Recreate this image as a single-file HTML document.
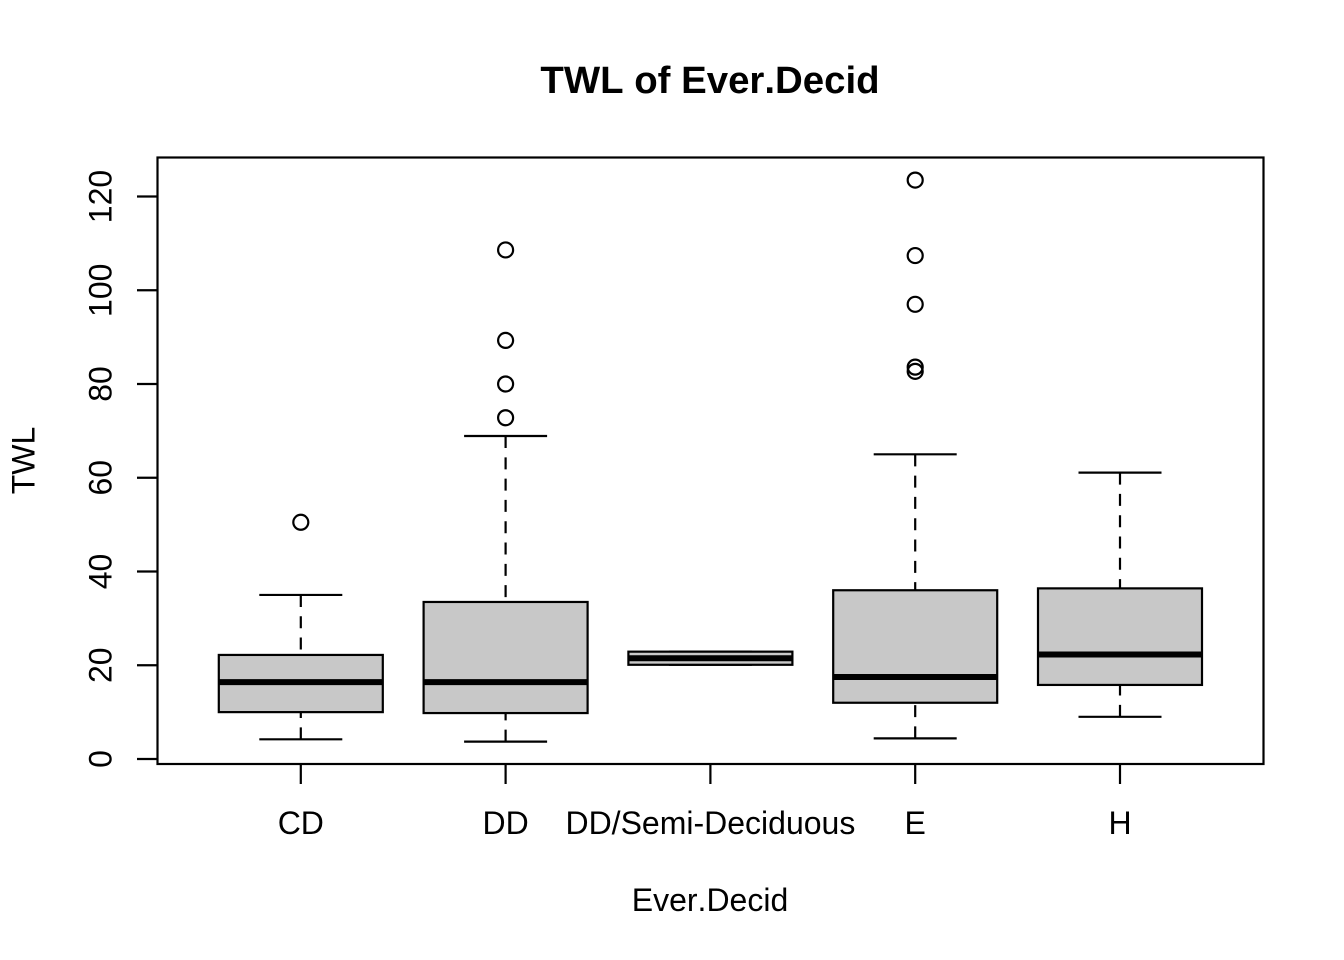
<!DOCTYPE html>
<html>
<head>
<meta charset="utf-8">
<title>TWL of Ever.Decid</title>
<style>
html,body{margin:0;padding:0;background:#fff;}
svg{display:block;}
text{font-family:"Liberation Sans",Arial,sans-serif;fill:#000;font-kerning:none;}
</style>
</head>
<body>
<svg id="chart" xmlns="http://www.w3.org/2000/svg" width="1344" height="960" viewBox="0 0 1344 960">
  <rect x="0" y="0" width="1344" height="960" fill="#fff"/>
  <text x="710" y="93" font-size="38.4" font-weight="bold" text-anchor="middle">TWL of Ever.Decid</text>
  <text x="710" y="911" font-size="32" text-anchor="middle">Ever.Decid</text>
  <text transform="translate(34.5 460.5) rotate(-90)" font-size="32" text-anchor="middle">TWL</text>
</svg>
<script>
const categories = ["CD", "DD", "DD/Semi-Deciduous", "E", "H"];
const whiskerLow = [4.2, 3.7, 20.1, 4.4, 9.0];
const q1Values = [10.0, 9.8, 20.1, 12.0, 15.8];
const medianValues = [16.4, 16.4, 21.5, 17.5, 22.3];
const q3Values = [22.2, 33.5, 22.9, 36.0, 36.4];
const whiskerHigh = [35.0, 68.9, 22.9, 65.0, 61.1];
const outlierValues = [
  [50.5],
  [72.8, 80.0, 89.3, 108.6],
  [],
  [82.7, 83.6, 97.0, 107.4, 123.5],
  []
];
const yTickValues = [0, 20, 40, 60, 80, 100, 120];

const svg = document.getElementById('chart');
const NS = 'http://www.w3.org/2000/svg';
const plotLeft = 157.5, plotRight = 1263.5, plotTop = 157.5, plotBottom = 764;
const lineWidth = 2.2;

function xScale(i) { return 300.8 + (i / (categories.length - 1)) * (1120 - 300.8); }
function yScale(v) { return 759 - v * (759 - 196.5) / 120; }

function make(tag, attrs, parent) {
  const el = document.createElementNS(NS, tag);
  for (const k in attrs) el.setAttribute(k, attrs[k]);
  (parent || svg).appendChild(el);
  return el;
}

categories.forEach(function (cat, i) {
  const cx = xScale(i);
  const g = make('g', {});
  
  

  const upper = make('line', { x1: cx, x2: cx, y1: yScale(whiskerHigh[i]), y2: yScale(q3Values[i]), stroke: '#000', 'stroke-width': lineWidth, 'stroke-dasharray': '12 9.3' }, g);
  
  

  const lower = make('line', { x1: cx, x2: cx, y1: yScale(whiskerLow[i]), y2: yScale(q1Values[i]), stroke: '#000', 'stroke-width': lineWidth, 'stroke-dasharray': '12 9.3' }, g);
  
  

  const capHigh = make('line', { x1: cx - 41.5, x2: cx + 41.5, y1: yScale(whiskerHigh[i]), y2: yScale(whiskerHigh[i]), stroke: '#000', 'stroke-width': lineWidth }, g);
  
  

  const capLow = make('line', { x1: cx - 41.5, x2: cx + 41.5, y1: yScale(whiskerLow[i]), y2: yScale(whiskerLow[i]), stroke: '#000', 'stroke-width': lineWidth }, g);
  
  

  const box = make('rect', { x: cx - 82, width: 164, y: yScale(q3Values[i]), height: yScale(q1Values[i]) - yScale(q3Values[i]), fill: '#c8c8c8', stroke: '#000', 'stroke-width': lineWidth }, g);
  
  

  const med = make('line', { x1: cx - 82, x2: cx + 82, y1: yScale(medianValues[i]), y2: yScale(medianValues[i]), stroke: '#000', 'stroke-width': 6 }, g);
  
  

  outlierValues[i].forEach(function (v) {
    const pt = make('circle', { cx: cx, cy: yScale(v), r: 7.5, fill: 'none', stroke: '#000', 'stroke-width': lineWidth }, g);
    
    
  });

  const tick = make('line', { x1: cx, x2: cx, y1: plotBottom, y2: 784, stroke: '#000', 'stroke-width': lineWidth });
  
  

  const label = make('text', { x: cx, y: 834, 'font-size': 32, 'text-anchor': 'middle' });
  label.textContent = cat;
  
  
});

yTickValues.forEach(function (v) {
  const y = yScale(v);
  const tick = make('line', { x1: 137, x2: plotLeft, y1: y, y2: y, stroke: '#000', 'stroke-width': lineWidth });
  
  

  const label = make('text', { transform: 'translate(111.5 ' + y + ') rotate(-90)', 'font-size': 32, 'text-anchor': 'middle' });
  label.textContent = String(v);
  
  
});

const frame = make('rect', { x: plotLeft, y: plotTop, width: plotRight - plotLeft, height: plotBottom - plotTop, fill: 'none', stroke: '#000', 'stroke-width': lineWidth });


</script>
</body>
</html>
